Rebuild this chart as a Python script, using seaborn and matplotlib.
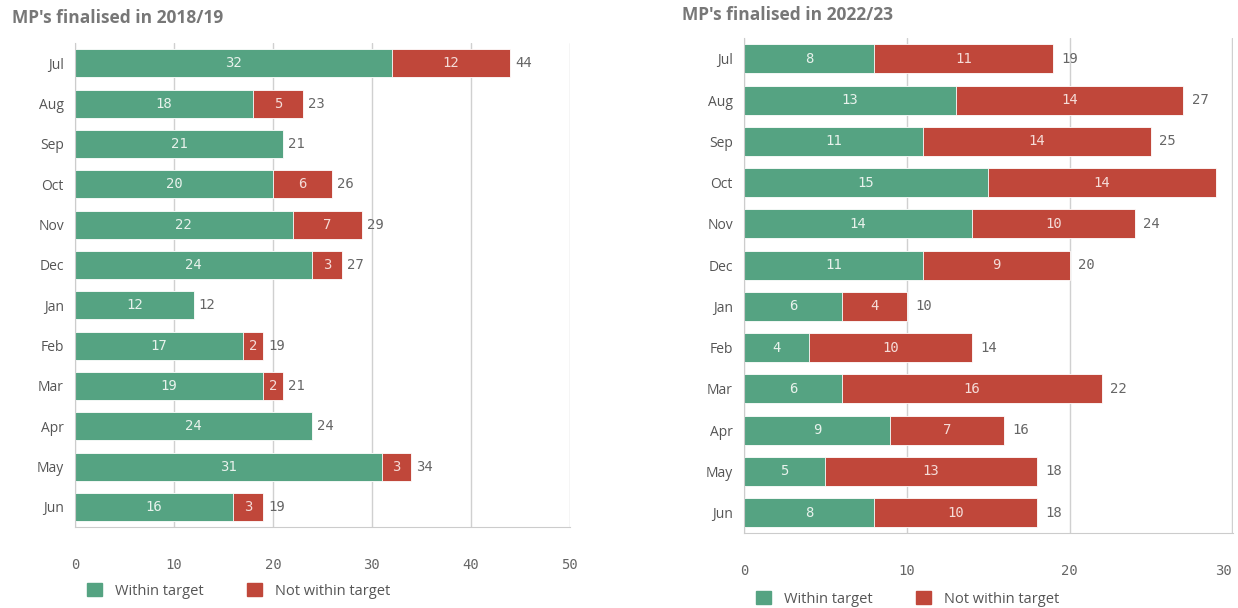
import numpy as np
import pandas as pd
import matplotlib.pyplot as plt
import seaborn as sns
from matplotlib.patches import Patch

# --- Data ---
months = ['Jul', 'Aug', 'Sep', 'Oct', 'Nov', 'Dec', 'Jan', 'Feb', 'Mar', 'Apr', 'May', 'Jun']
within_1819 = [32, 18, 21, 20, 22, 24, 12, 17, 19, 24, 31, 16]
not_within_1819 = [12, 5, 0, 6, 7, 3, 0, 2, 2, 0, 3, 3]
within_2223 = [8, 13, 11, 15, 14, 11, 6, 4, 6, 9, 5, 8]
not_within_2223 = [11, 14, 14, 14, 10, 9, 4, 10, 16, 7, 13, 10]

GREEN = '#55a382'
RED = '#c0473a'
GREY = '#666666'
MONO = 'DejaVu Sans Mono'

sns.set_style('white')
plt.rcParams['font.family'] = ['Open Sans', 'DejaVu Sans']

fig = plt.figure(figsize=(12.38, 6.08), dpi=100)
ax1 = fig.add_axes([0.0606, 0.133, 0.4, 0.796])
ax2 = fig.add_axes([0.601, 0.123, 0.395, 0.814])


def draw(ax, within, not_within, xmax, ticks, title, title_x, title_y):
    df = pd.DataFrame({'month': months, 'within': within,
                       'total': np.array(within) + np.array(not_within)})
    ax.set_axisbelow(True)
    # total bar in red, green part drawn on top -> stacked look
    sns.barplot(data=df, y='month', x='total', color=RED, width=0.7,
                saturation=1, ax=ax, edgecolor='white', linewidth=0.6)
    sns.barplot(data=df, y='month', x='within', color=GREEN, width=0.7,
                saturation=1, ax=ax, edgecolor='white', linewidth=0.6)

    for i, (w, n) in enumerate(zip(within, not_within)):
        ax.text(w / 2, i, str(w), ha='center', va='center', color='#e8f2ec',
                fontsize=10, family=MONO)
        if n > 0:
            ax.text(w + n / 2, i, str(n), ha='center', va='center',
                    color='#f5dcd8', fontsize=10, family=MONO)
        t = w + n
        if t + 2 < xmax:
            ax.text(t + 0.5, i, str(t), ha='left', va='center', color=GREY,
                    fontsize=10, family=MONO)

    ax.set_xlim(0, xmax)
    ax.set_xticks(ticks)
    ax.set_xticklabels([str(t) for t in ticks], family=MONO, color=GREY, fontsize=10)
    ax.tick_params(axis='x', length=8, color='#cccccc', pad=14)
    ax.tick_params(axis='y', length=0, pad=8, labelsize=10, labelcolor='#555555')
    ax.grid(axis='x', color='#d0d0d0', linewidth=1)
    ax.set_xlabel('')
    ax.set_ylabel('')
    for s in ['top', 'right']:
        ax.spines[s].set_visible(False)
    ax.spines['left'].set_color('#cccccc')
    ax.spines['bottom'].set_color('#cccccc')
    fig.text(title_x, title_y, title, fontsize=12.5, fontweight='bold',
             color='#777777', ha='left', va='center')


draw(ax1, within_1819, not_within_1819, 50.05, [0, 10, 20, 30, 40, 50],
     "MP's finalised in 2018/19", 0.0097, 0.970)
draw(ax2, within_2223, not_within_2223, 30.05, [0, 10, 20, 30],
     "MP's finalised in 2022/23", 0.551, 0.975)
# last tick label sits inside the figure edge
ax2.get_xticklabels()[-1].set_ha('right')

handles = [Patch(color=GREEN, label='Within target'),
           Patch(color=RED, label='Not within target')]
leg_kw = dict(ncol=2, frameon=False, handlelength=1.0, handleheight=1.0,
              columnspacing=3.0, handletextpad=0.9, labelcolor='#555555',
              fontsize=10.5)
fig.legend(handles=handles, loc='center left', bbox_to_anchor=(0.060, 0.028), **leg_kw)
fig.legend(handles=handles, loc='center left', bbox_to_anchor=(0.600, 0.015), **leg_kw)

plt.savefig('out.png', dpi=100)
